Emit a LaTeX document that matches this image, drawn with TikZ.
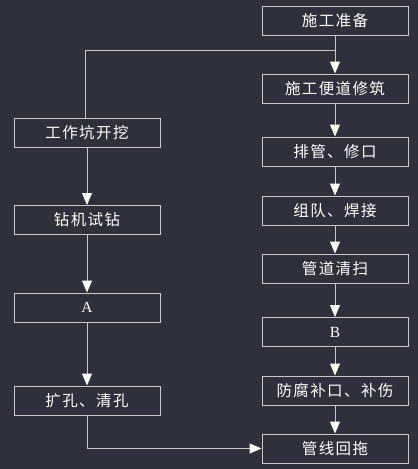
\documentclass[tikz,border=0pt]{standalone}
\usepackage{fontspec}
\newfontfamily\cjk[LetterSpace=9]{Noto Sans CJK SC}
\newfontfamily\lat{Liberation Serif}
\usetikzlibrary{arrows.meta}
\definecolor{bgc}{RGB}{46,49,60}
\definecolor{linec}{RGB}{200,200,204}
\tikzset{
  box/.style={draw=linec, line width=1pt, minimum width=146pt, minimum height=29pt, inner sep=0pt, text=white, font=\cjk\fontsize{15.5pt}{16pt}\selectfont},
  latbox/.style={box, font=\lat\fontsize{15.5pt}{16pt}\selectfont},
  conn/.style={draw=linec, line width=1pt},
  arr/.style={conn, -{Triangle[width=10pt,length=12pt,fill=white,color=white]}}
}
\begin{document}
\begin{tikzpicture}[x=1pt,y=-1pt]
\fill[bgc] (0,0) rectangle (418,469);
\useasboundingbox (0,0) rectangle (418,469);
% right column
\node[box] (prep) at (335,20.5) {施工准备};
\node[box] (road) at (335,88.5) {施工便道修筑};
\node[box] (pipe) at (335,151.5) {排管、修口};
\node[box] (weld) at (335,210.5) {组队、焊接};
\node[box] (clean) at (335,268.5) {管道清扫};
\node[latbox] (B) at (335,332) {B};
\node[box] (coat) at (335,390.5) {防腐补口、补伤};
\node[box] (pull) at (335,448.5) {管线回拖};
% left column
\node[box] (pit) at (87,132.5) {工作坑开挖};
\node[box] (drill) at (87,220) {钻机试钻};
\node[latbox] (A) at (87,307.5) {A};
\node[box] (ream) at (87,400.5) {扩孔、清孔};
% connectors
\coordinate (j) at (335,50);
\coordinate (k) at (85,50);
\draw[conn] (prep.south) -- (j);
\draw[arr] (j) -- (road.north);
\draw[conn] (j) -- (k) -- (k |- pit.north);
\draw[arr] (road) -- (pipe);
\draw[arr] (pipe) -- (weld);
\draw[arr] (weld) -- (clean);
\draw[arr] (clean) -- (B);
\draw[arr] (B) -- (coat);
\draw[arr] (coat) -- (pull);
\draw[arr] (pit) -- (drill);
\draw[arr] (drill) -- (A);
\draw[arr] (A) -- (ream);
\draw[arr] (ream.south) |- (pull.west);
\end{tikzpicture}
\end{document}
